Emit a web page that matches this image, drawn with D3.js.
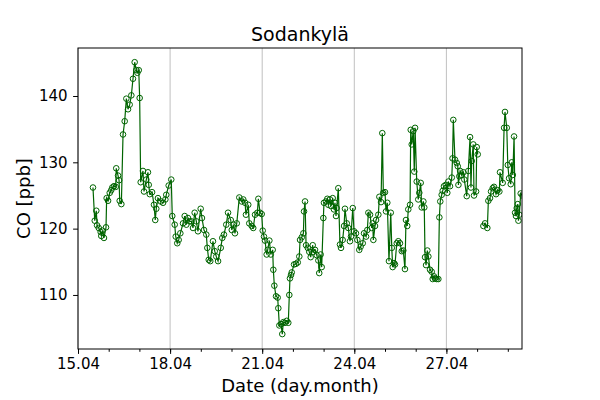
<!DOCTYPE html>
<html lang="en">

<head>
  <meta charset="utf-8">
  <title>Sodankylä CO</title>
  <script type="text/javascript" src="https://cdn.jsdelivr.net/npm/d3@7"></script>
  <style type="text/css">
    body { margin: 0; background: #fff; }
    text { font-family: "DejaVu Sans", sans-serif; fill: #000; }
  </style>
</head>

<body>
  <script type="text/javascript">
    // Hours after 15.04 00:00, and measured CO (ppb). null = gap in the record
    const hours = [
      11.7, 13.1, 14.3, 14.9, 16.2, 17.7, 18.2, 19.0, 20.3, 21.9, 22.4, 23.5, 24.8, 26.0, 26.8, 28.1,
      29.5, 29.9, 31.3, 32.1, 32.6, 33.9, 35.2, 36.5, 37.8, 39.1, 40.4, 41.7, 43.0, 44.3, 45.6, 46.4,
      47.5, 48.2, 49.0, 50.8, 51.6, 53.4, 54.7, 55.3, 56.1, 57.9, 59.4, 60.4, 61.2, 62.5, 64.7, 66.5,
      68.3, 69.0, 70.9, 72.9, 73.7, 75.6, 76.4, 77.6, 78.7, 80.0, 82.1, 83.4, 84.7, 86.0, 87.3, 88.6,
      89.9, 91.2, 92.5, 93.8, 95.9, 96.9, 98.5, 100.3, 101.1, 102.2, 103.4, 105.5, 106.9, 108.1, 109.5,
      111.6, 112.8, 114.1, 115.9, 117.3, 119.4, 120.2, 121.5, 122.7, 124.1, 126.1, 128.0, 129.2, 130.6,
      131.3, 133.1, 133.9, 135.8, 137.0, 138.4, 140.2, 141.0, 142.3, 143.6, 144.4, 145.4, 146.2, 147.5,
      148.3, 149.6, 150.7, 152.2, 152.7, 153.5, 154.8, 156.1, 156.6, 157.4, 158.7, 159.7, 160.5, 161.8,
      163.2, 164.4, 165.2, 165.7, 166.5, 167.1, 168.9, 170.4, 171.8, 173.0, 173.6, 174.9, 176.2, 176.7,
      177.5, 178.3, 179.6, 180.8, 181.9, 183.5, 184.0, 185.3, 186.6, 187.9, 188.6, 189.7, 190.5, 191.8,
      192.3, 193.9, 194.9, 195.7, 197.0, 197.8, 199.1, 200.1, 200.9, 201.7, 202.2, 203.5, 204.8, 205.6,
      206.9, 208.0, 208.7, 210.1, 211.3, 212.6, 213.4, 214.8, 215.8, 217.3, 218.4, 219.9, 221.0, 222.6,
      223.6, 225.2, 226.2, 227.0, 228.3, 229.6, 230.4, 230.9, 232.2, 233.0, 234.8, 235.6, 236.9, 237.9,
      238.7, 240.0, 240.8, 241.8, 243.1, 244.5, 245.3, 246.0, 247.0, 247.8, 249.2, 250.4, 251.7, 253.1,
      254.3, 255.6, 256.4, 257.4, 258.2, 259.6, 260.1, 260.9, 262.1, 262.9, 263.5, 264.8, 266.0, 266.8,
      267.9, 268.7, 270.0, 270.7, 271.3, 272.1, 273.1, 273.9, 275.2, 276.5, 277.3, 278.3, 279.1, 280.4,
      281.7, 282.5, 283.2, 284.3, 285.1, 286.1, 287.5, 288.7, 289.5, 290.8, 292.2, 292.8, 293.4, 294.7,
      296.1, 296.9, 297.4, 298.1, 298.7, 300.0, 301.3, 302.0, 303.9, 305.1, 306.5, 307.2, 307.8, 309.0,
      309.6, 311.2, 311.7, 312.5, 314.5, 316.9, 318.2, 320.0, 320.8, 322.1, 322.9, 324.2, 325.2, 326.8,
      328.1, 329.4, 329.9, 332.0, 333.1, 333.8, 335.2, 336.0, 337.0, 338.3, 339.1, 339.9, 340.9, 341.7,
      342.4, 343.0, 343.8, 344.3, 345.0, 346.1, 347.4
    ];

    const coPpb = [
      126.2, 121.2, 122.7, 120.5, 120.1, 119.5, 118.9, 119.7, 118.6, 120.2, 124.6, 124.2, 125.4, 125.8, 126.2, 126.4,
      126.3, 129.1, 128.0, 127.3, 124.2, 123.7, 134.2, 136.2, 139.6, 138.0, 138.7, 140.1, 142.6, 145.1, 143.9, 143.5,
      143.9, 139.7, 127.0, 128.7, 125.6, 127.4, 128.5, 126.6, 125.2, 125.5, 123.6, 121.3, 123.0, 124.6, 124.1, 123.9,
      124.4, 125.1, 126.5, 127.4, 121.9, 120.6, 118.8, 117.8, 118.3, 119.3, 120.8, 121.9, 120.6, 121.6, 121.1, 121.1,
      120.1, 122.4, 121.1, 119.6, 123.0, 121.6, 119.8, 119.1, 117.1, 115.3, 115.1, 118.1, 116.6, 115.8, 115.1,
      117.1, 118.6, 119.1, 120.6, 122.4, 121.3, 119.8, 120.6, 119.3, 120.8, 124.7, 124.1, 124.4, 123.9,
      122.1, 123.6, 120.8, 120.4, 120.1, 122.1, 122.4, 124.5, 122.4, 122.2, 119.7, 118.8, 118.2, 116.1,
      116.8, 118.2, 116.1, 116.8, 113.8, 111.4, 109.8, 109.6, 108.0, 105.4, 105.6, 104.1, 105.9, 105.8,
      106.1, 105.8, 110.0, 112.5, 113.0, 113.4, 114.6, 114.7, 114.9, 115.8, 118.3, 118.7, 119.3, 122.6,
      124.1, 117.5, 117.1, 116.5, 115.7, 117.5, 116.5, 116.8, 116.0, 115.2, 113.3, 116.1, 114.2, 121.6,
      123.9, 124.1, 124.5, 123.6, 124.4, 123.4, 124.6, 122.9, 123.9, 121.9, 123.1, 126.1, 117.6, 117.1,
      118.3, 120.4, 123.0, 120.8, 120.1, 118.1, 118.8, 123.1, 119.6, 119.3, 118.3, 116.8, 117.3, 117.8,
      119.3, 118.8, 119.8, 122.4, 122.1, 120.1, 120.8, 118.3, 120.4, 121.3, 122.1, 124.8, 124.0, 134.4,
      125.4, 125.5, 122.6, 123.9, 115.1, 122.4, 117.1, 114.2, 114.8, 114.6, 117.8, 118.1, 117.8, 116.6,
      116.7, 113.9, 121.3, 120.4, 122.9, 123.6, 134.9, 132.7, 134.7, 128.6, 135.2, 127.1, 124.4, 125.4,
      126.9, 123.2, 124.1, 123.2, 115.7, 114.5, 116.7, 115.8, 113.8, 113.5, 112.4, 112.8, 112.5, 112.4,
      112.4, 121.7, 124.1, 125.1, 125.7, 126.4, 126.6, 125.4, 127.1, 126.4, 127.7, 130.6, 136.4, 130.4,
      129.9, 129.4, 126.6, 127.9, 128.7, 128.1, 128.5, 127.4, 124.9, 128.7, 133.8, 126.2, 130.2, 132.7,
      125.0, 125.6, 132.3, 131.2, null, 120.4, 120.8, 120.1, 124.2, 124.6, 125.6, 126.1, 126.3, 125.2,
      125.8, 125.6, 128.5, 126.9, 135.2, 137.6, 135.2, 129.6, 127.6, 126.7, 130.0, 128.1, 133.9, 122.4,
      121.9, 123.1, 123.7, 121.2, 122.1, 125.3, 125.0
    ];

    const majorTickDays = [15, 18, 21, 24, 27];
    const yTickValues = [110, 120, 130, 140];

    const startDate = new Date(2004, 3, 15);
    const hourToDate = h => new Date(startDate.getTime() + h * 3600 * 1000);

    const dataset = hours.map((h, i) => ({ date: hourToDate(h), value: coPpb[i] }));

    // Width og height
    const w = 600;
    const h = 400;
    const margin = { top: 48, right: 78, bottom: 51, left: 78 };

    const xScale = d3.scaleTime()
      .domain([startDate, hourToDate(347.1)])
      .range([margin.left, w - margin.right]);

    const yScale = d3.scaleLinear()
      .domain([101.85, 147.24])
      .range([h - margin.bottom, margin.top]);

    const svg = d3.select("body")
      .append("svg")
      .attr("width", w)
      .attr("height", h);

    const majorTicks = majorTickDays.map(d => new Date(2004, 3, d));
    const minorTicks = d3.timeDay.range(startDate, hourToDate(347.1));

    // vertical grid
    svg.append("g")
      .selectAll("line")
      .data(majorTicks)
      .enter()
      .append("line")
      .attr("x1", d => xScale(d))
      .attr("x2", d => xScale(d))
      .attr("y1", margin.top)
      .attr("y2", h - margin.bottom)
      .attr("stroke", "#b0b0b0")
      .attr("stroke-width", 0.8);

    svg.append("clipPath")
      .attr("id", "plotclip")
      .append("rect")
      .attr("x", margin.left)
      .attr("y", margin.top)
      .attr("width", w - margin.left - margin.right)
      .attr("height", h - margin.top - margin.bottom);

    const plot = svg.append("g").attr("clip-path", "url(#plotclip)");

    const line = d3.line()
      .defined(d => d.value !== null)
      .x(d => xScale(d.date))
      .y(d => yScale(d.value));

    plot.append("path")
      .datum(dataset)
      .attr("d", line)
      .attr("fill", "none")
      .attr("stroke", "#006400")
      .attr("stroke-width", 1.2);

    plot.selectAll("circle")
      .data(dataset.filter(d => d.value !== null))
      .enter()
      .append("circle")
      .attr("cx", d => xScale(d.date))
      .attr("cy", d => yScale(d.value))
      .attr("r", 2.8)
      .attr("fill", "none")
      .attr("stroke", "#006400")
      .attr("stroke-width", 1);

    // axes
    const xAxis = d3.axisBottom(xScale)
      .tickValues(majorTicks)
      .tickFormat(d3.timeFormat("%d.%m"))
      .tickSize(4.9)
      .tickPadding(4);

    const xMinor = d3.axisBottom(xScale)
      .tickValues(minorTicks)
      .tickFormat("")
      .tickSize(2.8);

    const yAxis = d3.axisLeft(yScale)
      .tickValues(yTickValues)
      .tickSize(4.9)
      .tickPadding(5.5);

    const gx = svg.append("g")
      .attr("transform", "translate(0," + (h - margin.bottom) + ")")
      .call(xAxis);
    svg.append("g")
      .attr("transform", "translate(0," + (h - margin.bottom) + ")")
      .call(xMinor)
      .select(".domain").remove();
    const gy = svg.append("g")
      .attr("transform", "translate(" + margin.left + ",0)")
      .call(yAxis);

    [gx, gy].forEach(g => {
      g.selectAll("text")
        .style("font-family", "DejaVu Sans, sans-serif")
        .style("font-size", "15px")
        .attr("fill", "#000");
      g.select(".domain").remove();
    });

    // frame
    svg.append("rect")
      .attr("x", margin.left)
      .attr("y", margin.top)
      .attr("width", w - margin.left - margin.right)
      .attr("height", h - margin.top - margin.bottom)
      .attr("fill", "none")
      .attr("stroke", "#000")
      .attr("stroke-width", 1);

    svg.append("text")
      .attr("x", (margin.left + w - margin.right) / 2)
      .attr("y", 41)
      .attr("text-anchor", "middle")
      .style("font-size", "19px")
      .text("Sodankylä");

    svg.append("text")
      .attr("x", (margin.left + w - margin.right) / 2)
      .attr("y", 392)
      .attr("text-anchor", "middle")
      .style("font-size", "18px")
      .text("Date (day.month)");

    svg.append("text")
      .attr("transform", "translate(30," + ((margin.top + h - margin.bottom) / 2) + ") rotate(-90)")
      .attr("text-anchor", "middle")
      .style("font-size", "18px")
      .text("CO [ppb]");
  </script>
</body>

</html>
